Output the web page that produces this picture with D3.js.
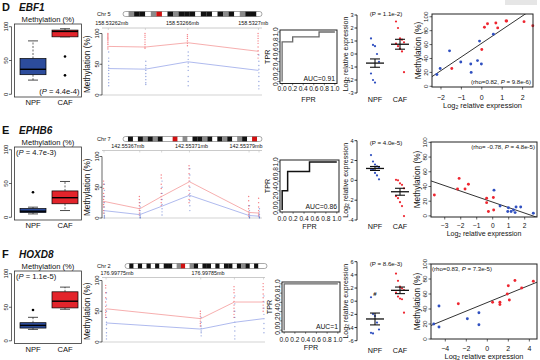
<!DOCTYPE html>
<html><head><meta charset="utf-8">
<script src="https://cdn.jsdelivr.net/npm/d3@7"></script>
<style>body{margin:0;background:#fff}svg{display:block}text{font-family:"Liberation Sans",Arial,sans-serif;fill:#111}</style>
</head><body>
<svg id="c" width="540" height="360"></svg>
<script>
// ---------------- DATA ----------------
const panelLetters = ["D","E","F"];
const geneNames = ["EBF1","EPHB6","HOXD8"];
const groups = ["NPF","CAF"];

// Boxplot methylation (%): [lower whisker, Q1, median, Q3, upper whisker]
const boxNPF = [[21,29,37,53,79],[5,7,9,13,15],[17,19,23,27,35]];
const boxCAF = [[85,85,93,95,97],[10,20,29,39,53],[47,49,59,73,80]];
const outNPF = [[],[37],[46]];
const outCAF = [[56,28],[],[]];
const boxP = ["4.4e-4","4.7e-3","1.1e-5"];
const boxTicks = [0,50,100];

// Methylation tracks
const chrNames = ["Chr 5","Chr 7","Chr 2"];
const chrBands = ["wgkkwgrwkgkkkwkkwkgkwgkkw","wkwkgkgkwwrwgwkkgkwkgkwgkwrw","wkwkwkwkwkkwgrwgkwkkwkwkkwkgkwkww"];
const trackStart = [158532615,142553655,176997734.6];
const trackEnd = [158532705,142553815,176997912.6];
const trackTickPos = [[158532620,158532660,158532700],[142553680,142553744,142553799],[176997750,176997850]];
const trackTickLabels = [["158.53262mb","158.53266mb","158.5327mb"],["142.55367mb","142.55371mb","142.55379mb"],["176.99775mb","176.99785mb"]];
const cpgPos = [[158532618,158532639,158532663,158532703],[142553656,142553692,142553714,142553742,142553802,142553812],[176997738,176997842,176997879,176997911]];
const cpgMeanCAF = [[79,78,85,71],[27,15,35,59,9,8],[54,38,65,65]];
const cpgMeanNPF = [[43,42,54,40],[12,5.5,19,37,4,3],[31,21,32,38]];
const cpgDotsCAF = [
  [[100,98,96,94,92,90,88,85,82,78,75],[100,97,94,90,86,82,78,76],[98,95,92,88,84,80],[100,96,92,88,84,78,72,66,60]],
  [[60,55,48,40,35,30,26,22,18,12,8],[35,30,25,20,15,12,8,5],[70,65,55,48,40,35,30,25,20],[85,80,72,65,60,52,45,38,30,25],[35,28,20,15,10,6,3],[32,25,18,12,8,5,3]],
  [[92,88,80,72,65,58,52,48,44,40],[50,46,42,38,34,30,26],[90,85,80,72,66,60,55,50,45,40],[95,90,85,78,72,66,60,55,50]]
];
const cpgDotsNPF = [
  [[70,60,55,48,44,40,35,30,25,20,15],[55,48,44,40,35,30,25,20,17],[70,64,58,52,46,40,30,22,15],[65,55,48,42,36,30,22,15,10]],
  [[55,45,35,25,18,12,8,4,2,0],[25,18,12,8,5,3,1,0],[60,50,40,30,22,15,10,5],[80,70,60,50,40,35,28,20,12],[20,12,8,5,3,1,0],[15,10,6,3,1,0]],
  [[80,70,60,50,40,32,28,22,15,10,5],[40,32,26,22,18,15,10],[75,62,50,40,32,25,18,10,5],[75,65,55,45,38,30,22,15]]
];

// ROC curves
const rocFPR = [[0,0,0.2,0.2,0.7,0.7,1],[0,0,0.1,0.1,0.5,0.5,1],[0,0,1]];
const rocTPR = [[0,0.8,0.8,0.9,0.9,1,1],[0,0.4,0.4,0.8,0.8,1,1],[0,1,1]];
const rocAUC = ["0.91","0.86","1"];
const rocTicks = [0,0.2,0.4,0.6,0.8,1.0];

// Expression (log2 relative)
const exprNPF = [[1.2,0.7,0.6,0.0,-0.6,-1.5,-2.0,-2.2],[2.55,1.9,1.6,1.4,1.25,1.15,1.1,0.75,0.5,0.1],[0.6,-1.95,-2.25,-3.25,-4.3,-4.8,-4.9]];
const exprCAF = [[2.5,2.0,1.2,1.1,0.9,0.8,0.6,0.4,0.2,-1.4],[0.05,0.0,-0.3,-0.45,-0.8,-1.6,-1.8,-2.2,-2.6,-3.6],[4.2,3.1,2.2,1.95,1.7,1.3,0.7,0.4,0.3,-1.75]];
const exprMean = [[-0.7,0.75],[1.2,-1.15],[-2.7,1.65]];
const exprSEM = [[0.32,0.38],[0.2,0.35],[0.9,0.5]];
const exprP = ["1.1e-2","4.0e-5","8.6e-3"];
const exprTicks = [[-3,-2,-1,0,1,2,3],[-4,-2,0,2,4],[-6,-4,-2,0,2,4,6]];
const exprMarkNPF = ["","","#"];

// Scatter: methylation vs expression
const scNPFx = [[-2.2,-2.04,-1.58,-1.03,-0.54,-0.52,-0.21,-0.11,-0.02,0.57],[0.08,0.46,0.94,0.98,1.15,1.3,1.4,1.46,1.75,2.54],[-5.1,-4.6,-4.6,-1.9,-0.8,-0.8]];
const scNPFy = [[17,25.6,51,35,32,20,37,65,32,75],[35,13.5,6,11,6,8,4.5,12,12,3.6],[20,16,44,27,35,19]];
const scCAFx = [[-1.47,0,0.13,0.28,0.69,0.78,1.19,1.22,2.07,2.5],[-3.65,-2.1,-2.2,-1.73,-1.52,-0.38,-0.38,-0.27,0.04,0.06],[-2.76,0.5,1.2,1.2,1.9,2.0,2.1,2.63,3.27,4.38]];
const scCAFy = [[25.6,53,85,90,91,84,94,94,93,87],[28.4,51,36.5,36.5,43,24,18,6,25,8],[47,49,49,46,60,71,52,78,68,77]];
const scFit = [[62,19.7],[18.75,-7.47],[48.7,5.72]]; // [intercept, slope]
const scXDomain = [[-2.44,2.51],[-3.86,2.77],[-5.36,4.73]];
const scYDomain = [[-1,104],[-1.5,100.5],[0,100]];
const scXTicks = [[-2,-1,0,1,2],[-3,-2,-1,0,1,2],[-4,-2,0,2,4]];
const scYTicks = [0,20,40,60,80,100];
const scRho = ["0.82"," -0.78","0.83"];
const scP = ["9.8e-6","4.8e-5","7.3e-5"];

// ---------------- LAYOUT / STYLE ----------------
const L = {
  rowY:[0,123,247],
  box:{x0:14.5,x1:81.5,top:24,bot:[97,97,96.5],axisX:11.5,cx:[33,65],w:26},
  trk:{axisX:102,xr:[[103,262],[103,262],[103,265]],y0:95,y100:33.5,chrY:[14,16,19],coordY:[23,22.5,26],lineY:[28,27.5,30.5],ideo:[[123,262],[123,262],[125,267]]},
  roc:{f:[[280,337,30,83.5],[280,339,37,89],[282,340,35,85]],tickY:[91,98,95],titleY:[102,106,103]},
  ex:{axisX:357,top:[15,17.7,14.7],bot:[93,97,93.7],cx:[375,400],pY:[15.5,21.5,18.5],gY:[102,106,106]},
  sc:{f:[[432,533,14,87],[431,537,19,94],[431,537,17,92]],tickY:[100,104.5,104],titleY:[107.5,112.5,111.5],rhoPos:["br","tr","tl"]}
};
const BLUE="#2c4c9c", RED="#e3242b", BDOT="#3050c0", RDOT="#ee2630";
const bandColor = {k:"#111",g:"#8a8a8a",w:"#fff",r:"#d01010"};

const svg = d3.select("#c");
svg.append("rect").attr("width",540).attr("height",360).attr("fill","#fff");
svg.append("rect").attr("x",505).attr("y",0).attr("width",32).attr("height",5).attr("fill","#e6e6e6");

function rotText(g,x,y,s,size,anchor){
  return g.append("text").attr("transform",`translate(${x},${y}) rotate(-90)`)
    .attr("text-anchor",anchor||"middle").attr("font-size",size).text(s);
}
function ln(g,x1,y1,x2,y2,stroke,w){
  return g.append("line").attr("x1",x1).attr("y1",y1).attr("x2",x2).attr("y2",y2)
    .attr("stroke",stroke||"#000").attr("stroke-width",w||0.7);
}
function log2Label(t){
  t.append("tspan").text("Log");
  t.append("tspan").attr("font-size","0.7em").attr("dy",1.6).text("2");
  t.append("tspan").attr("dy",-1.6).text(" relative expression");
}
function pLabel(t,prefix,val){
  t.append("tspan").text(prefix);
  t.append("tspan").attr("font-style","italic").text("P");
  t.append("tspan").text(" = "+val+")");
}

function drawBox(g,r,oy){
  const B=L.box, top=oy+B.top, bot=oy+B.bot[r];
  const y=d3.scaleLinear([-4,104],[bot,top]);
  const x=d3.scaleOrdinal(groups,B.cx);
  g.append("text").attr("x",(B.x0+B.x1)/2).attr("y",top-2.5).attr("text-anchor","middle").attr("font-size",7.6).text("Methylation (%)");
  ln(g,B.axisX,y(0),B.axisX,y(100),"#000",0.6);
  boxTicks.forEach(t=>{ ln(g,B.axisX,y(t),B.axisX-2.5,y(t),"#000",0.6); rotText(g,B.axisX-3.5,y(t),String(t),5.8); });
  [boxNPF[r],boxCAF[r]].forEach((s,i)=>{
    const cx=x(groups[i]), col=i?RED:BLUE, hw=B.w/2;
    ln(g,cx,y(s[3]),cx,y(s[4]),"#000",0.6).attr("stroke-dasharray","2,1.5");
    ln(g,cx,y(s[1]),cx,y(s[0]),"#000",0.6).attr("stroke-dasharray","2,1.5");
    ln(g,cx-5,y(s[4]),cx+5,y(s[4]),"#000",0.7);
    ln(g,cx-5,y(s[0]),cx+5,y(s[0]),"#000",0.7);
    g.append("rect").attr("x",cx-hw).attr("y",y(s[3])).attr("width",B.w).attr("height",Math.max(0.5,y(s[1])-y(s[3])))
      .attr("fill",col).attr("stroke","#000").attr("stroke-width",0.7);
    ln(g,cx-hw,y(s[2]),cx+hw,y(s[2]),"#000",1.4);
    const outs = i?outCAF[r]:outNPF[r];
    outs.forEach(v=>g.append("circle").attr("cx",cx).attr("cy",y(v)).attr("r",1.3).attr("fill","#000"));
    g.append("text").attr("x",cx).attr("y",bot+8).attr("text-anchor","middle").attr("font-size",7.6).text(groups[i]);
  });
  g.append("rect").attr("x",B.x0).attr("y",top).attr("width",B.x1-B.x0).attr("height",bot-top)
    .attr("fill","none").attr("stroke","#333").attr("stroke-width",0.8);
  const t=g.append("text").attr("font-size",7.6);
  if(r===0){ t.attr("x",B.x1-2).attr("y",bot-3).attr("text-anchor","end"); }
  else { t.attr("x",B.x0+1.5).attr("y",top+8); }
  pLabel(t,"(",boxP[r]);
}

function drawTrack(g,r,oy){
  const T=L.trk, xr=T.xr[r];
  const x=d3.scaleLinear([trackStart[r],trackEnd[r]],xr);
  const y=d3.scaleLinear([0,100],[oy+T.y0,oy+T.y100]);
  const cy=oy+T.chrY[r];
  g.append("text").attr("x",97).attr("y",cy+2).attr("font-size",5.6).text(chrNames[r]);
  const ib=T.ideo[r], bands=chrBands[r].split("");
  const bx=d3.scaleLinear([0,bands.length],ib);
  bands.forEach((b,i)=>g.append("rect").attr("x",bx(i)).attr("y",cy-2.5).attr("width",bx(i+1)-bx(i)+0.1).attr("height",5).attr("fill",bandColor[b]));
  g.append("rect").attr("x",ib[0]).attr("y",cy-2.5).attr("width",ib[1]-ib[0]).attr("height",5).attr("rx",2.5)
    .attr("fill","none").attr("stroke","#555").attr("stroke-width",0.5);
  trackTickPos[r].forEach((p,i)=>g.append("text").attr("x",x(p)).attr("y",oy+T.coordY[r]+2).attr("text-anchor","middle").attr("font-size",5.4).text(trackTickLabels[r][i]));
  const gy=oy+T.lineY[r];
  ln(g,T.axisX,gy,xr[1],gy,"#bdbdbd",0.8);
  cpgPos[r].forEach(p=>ln(g,x(p),gy,x(p),gy+2,"#bdbdbd",0.6));
  ln(g,T.axisX,y(0),xr[1],y(0),"#c8c8c8",0.8);
  // y axis
  ln(g,T.axisX,y(0),T.axisX,y(100),"#000",0.6);
  [0,50,100].forEach(t=>{ ln(g,T.axisX,y(t),T.axisX-2.5,y(t),"#000",0.6); rotText(g,T.axisX-3.5,y(t),String(t),6); });
  rotText(g,90,y(50),"Methylation (%)",8.3);
  // dots
  cpgPos[r].forEach((p,i)=>{
    cpgDotsCAF[r][i].forEach(v=>g.append("circle").attr("cx",x(p)-0.4).attr("cy",y(v)).attr("r",0.7).attr("fill",RDOT).attr("opacity",0.6));
    cpgDotsNPF[r][i].forEach(v=>g.append("circle").attr("cx",x(p)+0.4).attr("cy",y(v)).attr("r",0.7).attr("fill",BDOT).attr("opacity",0.5));
  });
  const line=d3.line().x(d=>x(d[0])).y(d=>y(d[1]));
  g.append("path").attr("d",line(cpgPos[r].map((p,i)=>[p,cpgMeanCAF[r][i]]))).attr("fill","none").attr("stroke","#f5a5a5").attr("stroke-width",0.9);
  g.append("path").attr("d",line(cpgPos[r].map((p,i)=>[p,cpgMeanNPF[r][i]]))).attr("fill","none").attr("stroke","#a6b2ec").attr("stroke-width",0.9);
}

function drawROC(g,r,oy){
  const f=L.roc.f[r], x0=f[0],x1=f[1],y0=oy+f[2],y1=oy+f[3];
  const x=d3.scaleLinear([-0.04,1.04],[x0,x1]);
  const y=d3.scaleLinear([-0.04,1.04],[y1,y0]);
  g.append("rect").attr("x",x0).attr("y",y0).attr("width",x1-x0).attr("height",y1-y0).attr("fill","none").attr("stroke","#222").attr("stroke-width",1);
  const line=d3.line().x(d=>x(d[0])).y(d=>y(d[1]));
  g.append("path").attr("d",line(rocFPR[r].map((v,i)=>[v,rocTPR[r][i]]))).attr("fill","none")
    .attr("stroke",r===1?"#111":"#6a6a6a").attr("stroke-width",r===1?1.5:1.3);
  rocTicks.forEach(t=>{
    ln(g,x(t),y1,x(t),y1+1.8,"#000",0.5);
    g.append("text").attr("x",x(t)).attr("y",oy+L.roc.tickY[r]).attr("text-anchor","middle").attr("font-size",6.6).text(t.toFixed(1));
    ln(g,x0,y(t),x0-1.8,y(t),"#000",0.5);
    rotText(g,x0-2.5,y(t),t.toFixed(1),6.6);
  });
  rotText(g,x0-10.5,(y0+y1)/2,"TPR",7.2);
  g.append("text").attr("x",(x0+x1)/2).attr("y",oy+L.roc.titleY[r]).attr("text-anchor","middle").attr("font-size",7.2).text("FPR");
  g.append("text").attr("x",x1-2).attr("y",y1-3).attr("text-anchor","end").attr("font-size",6.8).text("AUC="+rocAUC[r]);
}

function drawExpr(g,r,oy){
  const E=L.ex, tk=exprTicks[r];
  const y=d3.scaleLinear([tk[0],tk[tk.length-1]],[oy+E.bot[r],oy+E.top[r]]);
  ln(g,E.axisX,y(tk[0]),E.axisX,y(tk[tk.length-1]),"#000",0.8);
  tk.forEach(t=>{ ln(g,E.axisX,y(t),E.axisX-2.5,y(t),"#000",0.8);
    g.append("text").attr("x",E.axisX-3.5).attr("y",y(t)+2).attr("text-anchor","end").attr("font-size",5.6).text(t); });
  log2Label(rotText(g,E.axisX-9.5,(y(tk[0])+y(tk[tk.length-1]))/2,"",7));
  g.append("text").attr("x",386).attr("y",oy+E.pY[r]).attr("text-anchor","middle").attr("font-size",6.2).text("(P = "+exprP[r]+")");
  [exprNPF[r],exprCAF[r]].forEach((vals,i)=>{
    const cx=E.cx[i], col=i?RDOT:BDOT;
    vals.forEach((v,j)=>g.append("circle").attr("cx",cx+((j%5)-2)*2).attr("cy",y(v)).attr("r",1.1).attr("fill",col));
    const m=exprMean[r][i], s=exprSEM[r][i];
    ln(g,cx-9,y(m),cx+9,y(m),"#111",1.3);
    ln(g,cx,y(m-s),cx,y(m+s),"#111",1.1);
    ln(g,cx-5,y(m-s),cx+5,y(m-s),"#111",1.1);
    ln(g,cx-5,y(m+s),cx+5,y(m+s),"#111",1.1);
    g.append("text").attr("x",cx).attr("y",oy+E.gY[r]).attr("text-anchor","middle").attr("font-size",7.2).text(groups[i]);
  });
  if(exprMarkNPF[r]){
    g.append("text").attr("x",E.cx[0]).attr("y",y(d3.max(exprNPF[r]))-1.5).attr("text-anchor","middle").attr("font-size",6).attr("font-weight","bold").text(exprMarkNPF[r]);
  }
}

function drawScatter(g,r,oy){
  const S=L.sc, f=S.f[r], x0=f[0],x1=f[1],y0=oy+f[2],y1=oy+f[3];
  const x=d3.scaleLinear(scXDomain[r],[x0,x1]);
  const y=d3.scaleLinear(scYDomain[r],[y1,y0]);
  const cid="clip"+r;
  g.append("clipPath").attr("id",cid).append("rect").attr("x",x0).attr("y",y0).attr("width",x1-x0).attr("height",y1-y0);
  const fit=scFit[r], dom=scXDomain[r];
  g.append("line").attr("clip-path",`url(#${cid})`).attr("x1",x(dom[0])).attr("y1",y(fit[0]+fit[1]*dom[0]))
    .attr("x2",x(dom[1])).attr("y2",y(fit[0]+fit[1]*dom[1])).attr("stroke","#333").attr("stroke-width",1);
  scNPFx[r].forEach((v,i)=>g.append("circle").attr("cx",x(v)).attr("cy",y(scNPFy[r][i])).attr("r",1.45).attr("fill",BDOT));
  scCAFx[r].forEach((v,i)=>g.append("circle").attr("cx",x(v)).attr("cy",y(scCAFy[r][i])).attr("r",1.45).attr("fill",RDOT));
  g.append("rect").attr("x",x0).attr("y",y0).attr("width",x1-x0).attr("height",y1-y0).attr("fill","none").attr("stroke","#222").attr("stroke-width",1);
  scXTicks[r].forEach(t=>{ ln(g,x(t),y1,x(t),y1+2.5,"#000",0.6);
    g.append("text").attr("x",x(t)).attr("y",oy+S.tickY[r]).attr("text-anchor","middle").attr("font-size",r===1?6.6:7).text(t<0?"\u2212"+Math.abs(t):t); });
  scYTicks.forEach(t=>{ ln(g,x0,y(t),x0-2.5,y(t),"#000",0.6); rotText(g,x0-4,y(t),String(t),6.2); });
  rotText(g,x0-11.5,(y0+y1)/2,"Methylation (%)",8.3);
  log2Label(g.append("text").attr("x",(x0+x1)/2).attr("y",oy+S.titleY[r]).attr("text-anchor","middle").attr("font-size",r===1?7:7.4));
  const t=g.append("text").attr("font-size",6.1);
  const pos=S.rhoPos[r];
  if(pos==="br") t.attr("x",x1-2).attr("y",y1-3).attr("text-anchor","end");
  else if(pos==="tr") t.attr("x",x1-2).attr("y",y0+7).attr("text-anchor","end");
  else t.attr("x",x0+1).attr("y",y0+7);
  pLabel(t,"(rho="+scRho[r]+", ",scP[r]);
}

[0,1,2].forEach(r=>{
  const oy=L.rowY[r], g=svg.append("g");
  g.append("text").attr("x",2).attr("y",oy+10.5).attr("font-size",11).attr("font-weight","bold").text(panelLetters[r]);
  g.append("text").attr("x",19).attr("y",oy+10.5).attr("font-size",10).attr("font-weight","bold").attr("font-style","italic").text(geneNames[r]);
  drawBox(g,r,oy); drawTrack(g,r,oy); drawROC(g,r,oy); drawExpr(g,r,oy); drawScatter(g,r,oy);
});
</script>
</body></html>
